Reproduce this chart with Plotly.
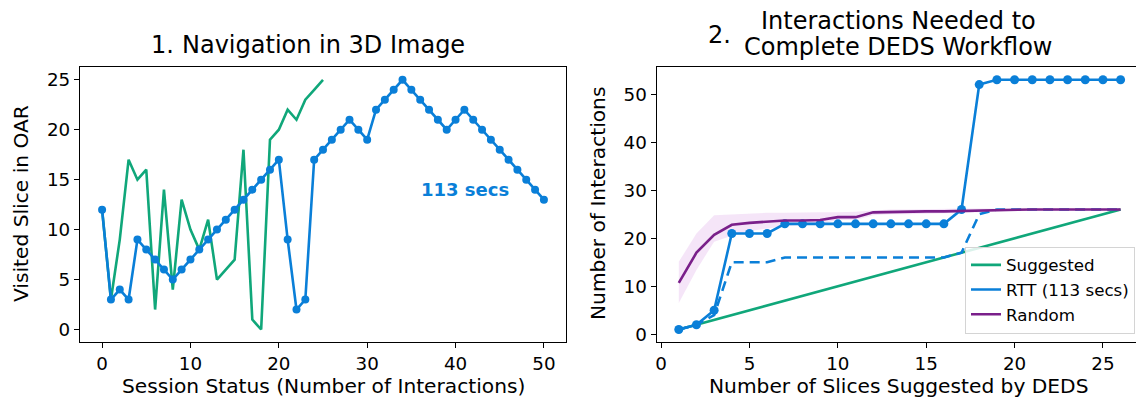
import plotly.graph_objects as go

W, H = 1144, 406
OFF = 8  # page body margin offset of the plot div

# ---------------- data: panel 1 ----------------
nav_rtt_x = list(range(0, 51))
nav_rtt_y = [12, 3, 4, 3, 9, 8, 7, 6, 5, 6, 7, 8, 9, 10, 11, 12, 13, 14, 15, 16, 17,
             9, 2, 3, 17, 18, 19, 20, 21, 20, 19, 22, 23, 24, 25, 24, 23, 22, 21, 20,
             21, 22, 21, 20, 19, 18, 17, 16, 15, 14, 13]
nav_sug_x = list(range(0, 26))
nav_sug_y = [12, 3, 9, 17, 15, 16, 2, 14, 4, 13, 10, 8, 11, 5, 6, 7, 18, 1, 0, 19,
             20, 22, 21, 23, 24, 25]

# ---------------- data: panel 2 ----------------
slices = list(range(1, 27))
suggested = list(range(1, 27))
rtt_solid = [1, 2, 5, 21, 21, 21, 23, 23, 23, 23, 23, 23, 23, 23, 23, 23, 26,
             52, 53, 53, 53, 53, 53, 53, 53, 53]
rtt_dashed = [1, 2, 4, 15, 15, 15, 16, 16, 16, 16, 16, 16, 16, 16, 16, 16, 17,
              25, 26, 26, 26, 26, 26, 26, 26, 26]
random_mean = [10.7, 17.0, 20.7, 22.8, 23.2, 23.5, 23.7, 23.7, 23.8, 24.4, 24.4,
               25.4, 25.5, 25.5, 25.6, 25.6, 25.7, 25.8, 25.9, 26.0, 26.0, 26.0,
               26.0, 26.0, 26.0, 26.0]
random_low = [6.5, 13.4, 19.3, 20.5, 21.5, 22.0, 22.5, 22.8, 23.0, 23.8, 23.8,
              24.8, 25.0, 25.0, 25.1, 25.1, 25.2, 25.4, 25.6, 25.8, 25.9, 26.0,
              26.0, 26.0, 26.0, 26.0]
random_high = [15.1, 21.0, 24.8, 25.0, 25.2, 25.3, 25.3, 25.4, 25.4, 25.4, 25.5,
               25.8, 26.0, 26.0, 26.1, 26.1, 26.2, 26.2, 26.2, 26.2, 26.1, 26.1,
               26.0, 26.0, 26.0, 26.0]

GREEN = "#10a77a"
BLUE = "#0a7fd8"
PURPLE = "#7a1f8a"
FONT = "DejaVu Sans"
TICK_FS = 18.3
LAB_FS = 20.2
LEG_FS = 16.7
TS = 24

fig = go.Figure()

# panel 1
fig.add_trace(go.Scatter(x=nav_sug_x, y=nav_sug_y, mode="lines",
                         line=dict(color=GREEN, width=2.6), showlegend=False,
                         xaxis="x", yaxis="y"))
fig.add_trace(go.Scatter(x=nav_rtt_x, y=nav_rtt_y, mode="lines+markers",
                         line=dict(color=BLUE, width=2.6),
                         marker=dict(color=BLUE, size=8), showlegend=False,
                         xaxis="x", yaxis="y"))

# panel 2
fig.add_trace(go.Scatter(x=slices, y=random_high, mode="lines",
                         line=dict(width=0, color=PURPLE), showlegend=False,
                         hoverinfo="skip", xaxis="x2", yaxis="y2"))
fig.add_trace(go.Scatter(x=slices, y=random_low, mode="lines", fill="tonexty",
                         fillcolor="rgba(200,110,215,0.18)",
                         line=dict(width=0, color=PURPLE), showlegend=False,
                         hoverinfo="skip", xaxis="x2", yaxis="y2"))
fig.add_trace(go.Scatter(x=slices, y=suggested, mode="lines",
                         line=dict(color=GREEN, width=2.6), showlegend=False,
                         xaxis="x2", yaxis="y2"))
fig.add_trace(go.Scatter(x=slices, y=rtt_dashed, mode="lines",
                         line=dict(color=BLUE, width=2.6, dash="10px,6px"),
                         showlegend=False, xaxis="x2", yaxis="y2"))
fig.add_trace(go.Scatter(x=slices, y=rtt_solid, mode="lines+markers",
                         line=dict(color=BLUE, width=2.6),
                         marker=dict(color=BLUE, size=9), showlegend=False,
                         xaxis="x2", yaxis="y2"))
fig.add_trace(go.Scatter(x=slices, y=random_mean, mode="lines",
                         line=dict(color=PURPLE, width=2.6), showlegend=False,
                         xaxis="x2", yaxis="y2"))

# legend entries (line only)
for name, col in [("Suggested", GREEN), ("RTT (113 secs)", BLUE), ("Random", PURPLE)]:
    fig.add_trace(go.Scatter(x=[None], y=[None], mode="lines", name=name,
                             line=dict(color=col, width=2.6),
                             xaxis="x2", yaxis="y2"))

def px_x(p):
    return (p - OFF) / W

def px_y(p):
    return 1 - (p - OFF) / H

ydom = [px_y(342), px_y(67.3)]
axis_common = dict(showline=True, linecolor="black", linewidth=1.3, mirror=True,
                   ticks="outside", ticklen=5, tickwidth=1.3, tickcolor="black",
                   showgrid=False, zeroline=False, automargin=False,
                   tickfont=dict(family=FONT, size=TICK_FS, color="black"))

fig.update_layout(
    width=W, height=H,
    margin=dict(l=0, r=0, t=0, b=0, pad=0),
    paper_bgcolor="white", plot_bgcolor="white",
    font=dict(family=FONT, size=TICK_FS, color="black"),
    xaxis=dict(domain=[px_x(80), px_x(566)], range=[-2.5, 52.5],
               tickvals=[0, 10, 20, 30, 40, 50], anchor="y", **axis_common),
    yaxis=dict(domain=ydom, range=[-1.25, 26.25],
               tickvals=[0, 5, 10, 15, 20, 25], anchor="x", **axis_common),
    xaxis2=dict(domain=[px_x(656.7), px_x(1142.7)], range=[-0.25, 27.25],
                tickvals=[0, 5, 10, 15, 20, 25], anchor="y2", **axis_common),
    yaxis2=dict(domain=ydom, range=[-1.6, 55.6],
                tickvals=[0, 10, 20, 30, 40, 50], anchor="x2", **axis_common),
    legend=dict(x=px_x(1135), y=px_y(333.5), xanchor="right", yanchor="bottom",
                bgcolor="rgba(255,255,255,0.85)", bordercolor="#d4d4d4",
                borderwidth=1, font=dict(family=FONT, size=LEG_FS, color="black"),
                tracegroupgap=0, traceorder="normal"),
    showlegend=True,
)

ann = []
def text(x, y, s, size=LAB_FS, xanchor="center", yanchor="middle", angle=0,
         color="black"):
    ann.append(dict(x=px_x(x), y=px_y(y), xref="paper", yref="paper",
                    text=s, showarrow=False,
                    xanchor=xanchor, yanchor=yanchor, textangle=angle,
                    font=dict(family=FONT, size=size, color=color)))

# titles
text(323, 45, "Navigation in 3D Image", size=TS)
text(176, 45, "1.", size=TS, xanchor="right")
text(898, 21, "Interactions Needed to", size=TS)
text(898, 47, "Complete DEDS Workflow", size=TS)
text(719, 35, "2.", size=TS)
# axis titles
text(323, 386, "Session Status (Number of Interactions)")
text(21, 204, "Visited Slice in OAR", angle=-90)
text(898, 386, "Number of Slices Suggested by DEDS")
text(598, 204, "Number of Interactions", angle=-90)
# annotation in panel 1 (data coordinates)
ann.append(dict(x=41.1, y=14, xref="x", yref="y", text="<b>113 secs</b>",
                showarrow=False, xanchor="center", yanchor="middle",
                font=dict(family=FONT, size=18, color=BLUE)))

fig.update_layout(annotations=ann)
fig.write_html("out.html")
